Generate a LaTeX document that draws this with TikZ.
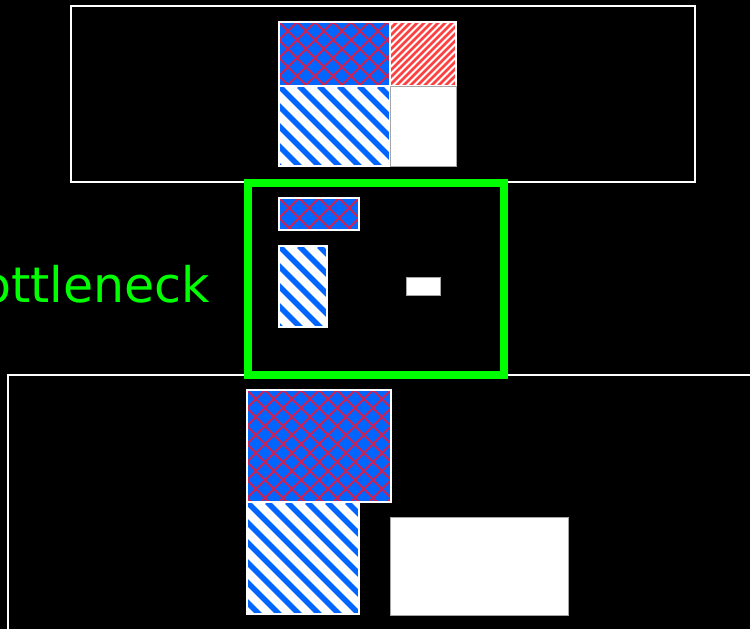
\documentclass[tikz,border=0pt]{standalone}
\usepackage{fontspec}
\newfontfamily\labelfont{DejaVu Sans}
\definecolor{hblue}{HTML}{0066FF}
\definecolor{hred}{HTML}{CC2255}
\definecolor{sred}{HTML}{FF4040}
\definecolor{lgreen}{HTML}{00FF00}
\tikzset{
  frame/.style={draw=white, line width=1.5pt},
  greenframe/.style={draw=lgreen, line width=8pt},
  boxedge/.style={draw=white, line width=1.5pt},
  plainbox/.style={fill=white, draw=gray!70, line width=0.8pt},
}
\newcommand{\xhatchbox}[5]{%
  \begin{scope}
    \clip (#1,#2) rectangle (#3,#4);
    \fill[hblue] (#1,#2) rectangle (#3,#4);
    \foreach \k in {-30,...,30} {
      \draw[hred, line width=1.8pt] ({#1+\k*#5},#2) -- ++(300,300);
      \draw[hred, line width=1.8pt] ({#1+\k*#5},#2) -- ++(-300,300);
    }
  \end{scope}
  \draw[boxedge] (#1,#2) rectangle (#3,#4);}
\newcommand{\bstripebox}[5]{%
  \begin{scope}
    \clip (#1,#2) rectangle (#3,#4);
    \fill[white] (#1,#2) rectangle (#3,#4);
    \foreach \k in {-30,...,30} {
      \draw[hblue, line width=5.5pt] ({#1+\k*#5},#2) -- ++(300,300);
    }
  \end{scope}
  \draw[boxedge] (#1,#2) rectangle (#3,#4);}
\newcommand{\rstripebox}[5]{%
  \begin{scope}
    \clip (#1,#2) rectangle (#3,#4);
    \fill[white] (#1,#2) rectangle (#3,#4);
    \foreach \k in {-10,...,40} {
      \draw[sred, line width=2.6pt] ({#1+\k*#5},#2) -- ++(-300,300);
    }
  \end{scope}
  \draw[boxedge] (#1,#2) rectangle (#3,#4);}
\begin{document}
\begin{tikzpicture}[x=1pt,y=-1pt]
\useasboundingbox (0,0) rectangle (750,629);
\fill[black] (0,0) rectangle (750,629);
\begin{scope}
\clip (0,0) rectangle (750,629);
% outer frames
\draw[frame] (71,6) rectangle (695,182);
\draw[frame] (8,375) rectangle (770,650);
% top group
\xhatchbox{279}{22}{390}{86}{18}
\rstripebox{390}{22}{456}{86}{7}
\bstripebox{279}{86}{390}{166}{20}
\path[plainbox] (390,86) rectangle (456,166);
% green bottleneck frame
\draw[greenframe] (247.5,182.5) rectangle (503.5,374.5);
\xhatchbox{279}{198}{359}{230}{20}
\bstripebox{279}{246}{327}{327}{20}
\path[plainbox] (406,277) rectangle (440,295);
% bottom group
\xhatchbox{247}{390}{391}{502}{18}
\bstripebox{247}{502}{359}{614}{20}
\path[plainbox] (390,517) rectangle (568,615);
% label
\node[anchor=base east, text=lgreen, font=\labelfont\fontsize{49}{56}\selectfont, inner sep=0pt] (label) at (210,302) {Bottleneck};
\end{scope}
\end{tikzpicture}
\end{document}
